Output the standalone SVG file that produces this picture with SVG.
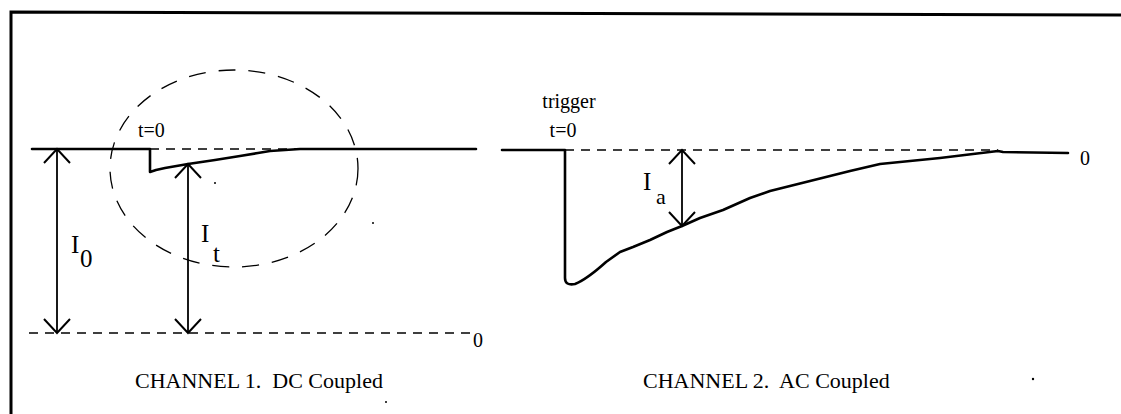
<svg xmlns="http://www.w3.org/2000/svg" width="1121" height="414" viewBox="0 0 1121 414">
  <defs>
    <style>
      .frame { fill: none; stroke: #000; stroke-width: 3; }
      .trace { fill: none; stroke: #000; stroke-width: 2.6; stroke-linejoin: round; stroke-linecap: round; }
      .dash { fill: none; stroke: #000; stroke-width: 1.4; stroke-dasharray: 9 7; }
      .ell { fill: none; stroke: #000; stroke-width: 1.3; stroke-dasharray: 17 13; }
      .dim { fill: none; stroke: #000; stroke-width: 1.8; marker-start: url(#head); marker-end: url(#head); }
      .lbl { font-family: "Liberation Serif", "Times New Roman", serif; fill: #000; white-space: pre; }
      .s20 { font-size: 20px; }
      .s22 { font-size: 22px; }
      .s25 { font-size: 25px; }
      .dot { fill: #000; }
    </style>
    <marker id="head" markerUnits="userSpaceOnUse" markerWidth="30" markerHeight="30" viewBox="-16 -15 18 30" refX="0" refY="0" orient="auto-start-reverse">
      <path d="M-14,-13 L0,0 L-14,13" fill="none" stroke="#000" stroke-width="2"/>
    </marker>
  </defs>
  <rect width="1121" height="414" fill="#fff"/>

  <g id="frame">
    <path class="frame" d="M11,414 L11,12 L1121,15"/>
  </g>

  <g id="channel1">
    <line id="ch1-zero-line" class="dash" x1="29" y1="333" x2="470" y2="333"/>
    <line id="ch1-ref-dash" class="dash" x1="150" y1="149" x2="300" y2="149"/>
    <path id="ch1-trace" class="trace" d="M32,149 L150,149 L150,172 L156,170 L165,168 L188,164 L215,160 L240,156 L258,153 L270,151 L300,149 L476,149"/>
    <ellipse id="ch1-ellipse" class="ell" cx="234" cy="168.5" rx="124" ry="98.5"/>
    <text class="lbl s20" x="138" y="137">t=0</text>
    <text class="lbl s20" x="473" y="347">0</text>
    <g id="label-I0"><text class="lbl s25" x="71" y="253">I</text><text class="lbl s25" x="80" y="267">0</text></g>
    <g id="label-It"><text class="lbl s25" x="201" y="242">I</text><text class="lbl s25" x="213" y="262">t</text></g>
    <text class="lbl s22" x="135" y="388" xml:space="preserve">CHANNEL 1.  DC Coupled</text>
  </g>

  <g id="channel2">
    <line id="ch2-ref-dash" class="dash" x1="565" y1="150" x2="998" y2="150"/>
    <path id="ch2-trace" class="trace" d="M502,150 L565,150 L565,278 Q565,286 575,284 C585,280 596,271 606,262 L620,252 L633,247 L650,240 L667,232 L682,226 L700,218 L723,210 L750,198 L770,191 L790,186 L810,181 L830,176 L850,171 L880,164 L910,161 L940,158 L973,154 L998,151 L1003,152 L1068,153"/>
    <text class="lbl s20" x="569" y="108" text-anchor="middle">trigger</text>
    <text class="lbl s20" x="563" y="137" text-anchor="middle">t=0</text>
    <text class="lbl s20" x="1080" y="165">0</text>
    <g id="label-Ia"><text class="lbl s25" x="643" y="190">I</text><text class="lbl s22" x="656" y="204">a</text></g>
    <text class="lbl s22" x="643" y="388" xml:space="preserve">CHANNEL 2.  AC Coupled</text>
  </g>

  <g id="connectors">
    <line id="arrow-I0" class="dim" x1="57" y1="149" x2="57" y2="333"/>
    <line id="arrow-It" class="dim" x1="188" y1="164" x2="188" y2="333"/>
    <line id="arrow-Ia" class="dim" x1="682" y1="150" x2="682" y2="226"/>
  </g>

  <g id="specks">
    <circle class="dot" cx="215" cy="183" r="1"/>
    <circle class="dot" cx="373" cy="223" r="1"/>
    <circle class="dot" cx="386" cy="402" r="1"/>
    <circle class="dot" cx="1033" cy="379" r="1.2"/>
  </g>
</svg>
